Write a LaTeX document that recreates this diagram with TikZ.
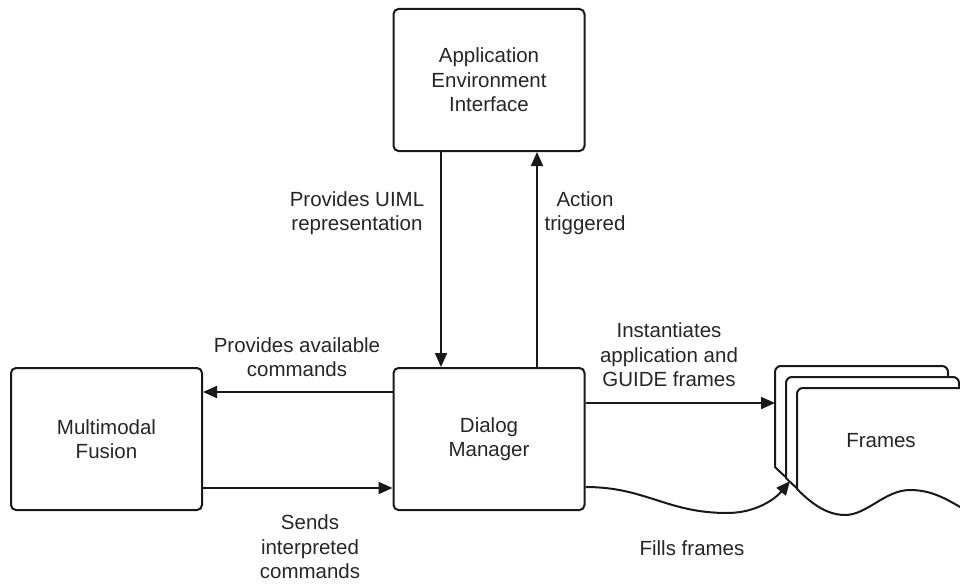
\documentclass[tikz,border=0pt]{standalone}
\usepackage{fontspec}
\setmainfont{Liberation Sans}
\usetikzlibrary{arrows.meta}

\tikzset{
  txt/.style={font=\fontsize{20.5}{24.5}\selectfont, text=black!85, align=center, inner sep=0pt},
  box/.style={txt, draw=black!90, line width=2pt, rounded corners=5pt,
    minimum width=191pt, minimum height=142pt},
  lbl/.style={txt},
  arr/.style={draw=black!90, line width=2pt, -{Triangle[length=14pt,width=12pt]}},
  sheet/.style={draw=black!90, fill=white, line width=2pt},
  % one wavy-bottomed sheet, anchored at its lower left corner
  pics/framesheet/.style={code={
    \path[sheet] (0,0) [rounded corners=6pt] -- (0,-101) -- (173,-101)
      [sharp corners] -- (173,24)
      .. controls (150,10) and (135,1) .. (113,1)
      .. controls (88,1) and (70,26) .. (48,26)
      .. controls (28,26) and (12,12) .. (0,0) -- cycle;
  }}
}

\begin{document}
\begin{tikzpicture}[x=1pt,y=-1pt]
\path[use as bounding box, clip] (0,0) rectangle (960,583);

% main blocks
\node[box] (aei) at (489,80)  {Application\\Environment\\Interface};
\node[box] (dm)  at (489,439) {Dialog\\Manager};
\node[box] (mf)  at (106.5,439) {Multimodal\\Fusion};

% stack of frames
\pic at (775,467) {framesheet};
\pic at (786,478) {framesheet};
\pic at (797,489) {framesheet};
\node[lbl] (frames) at (881,441) {Frames};
\coordinate (instTip) at (775,403);
\coordinate (fillLow) at (727,513);
\coordinate (fillTip) at (790,481);

% connectors
\draw[arr] ([xshift=-48pt]aei.south) -- ([xshift=-48pt]dm.north);
\draw[arr] ([xshift=48pt]dm.north) -- ([xshift=48pt]aei.south);
\draw[arr] ([yshift=47pt]dm.west) -- ([yshift=47pt]mf.east);
\draw[arr] ([yshift=-49pt]mf.east) -- ([yshift=-49pt]dm.west);
\draw[arr] ([yshift=36pt]dm.east) -- (instTip);
\draw[arr] ([yshift=-48pt]dm.east) .. controls +(60,0) and +(-60,0) .. (fillLow)
  .. controls +(30,0) and +(-14,17) .. (fillTip);

% connector labels
\node[lbl] (lUiml) at (357,213) {Provides UIML\\representation};
\node[lbl] (lAct)  at (585,213) {Action\\triggered};
\node[lbl] (lAvail) at (297,357) {Provides available\\commands};
\node[lbl] (lInst) at (669,355) {Instantiates\\application and\\GUIDE frames};
\node[lbl] (lSend) at (310,547) {Sends\\interpreted\\commands};
\node[lbl] (lFill) at (692,548) {Fills frames};
\end{tikzpicture}
\end{document}
